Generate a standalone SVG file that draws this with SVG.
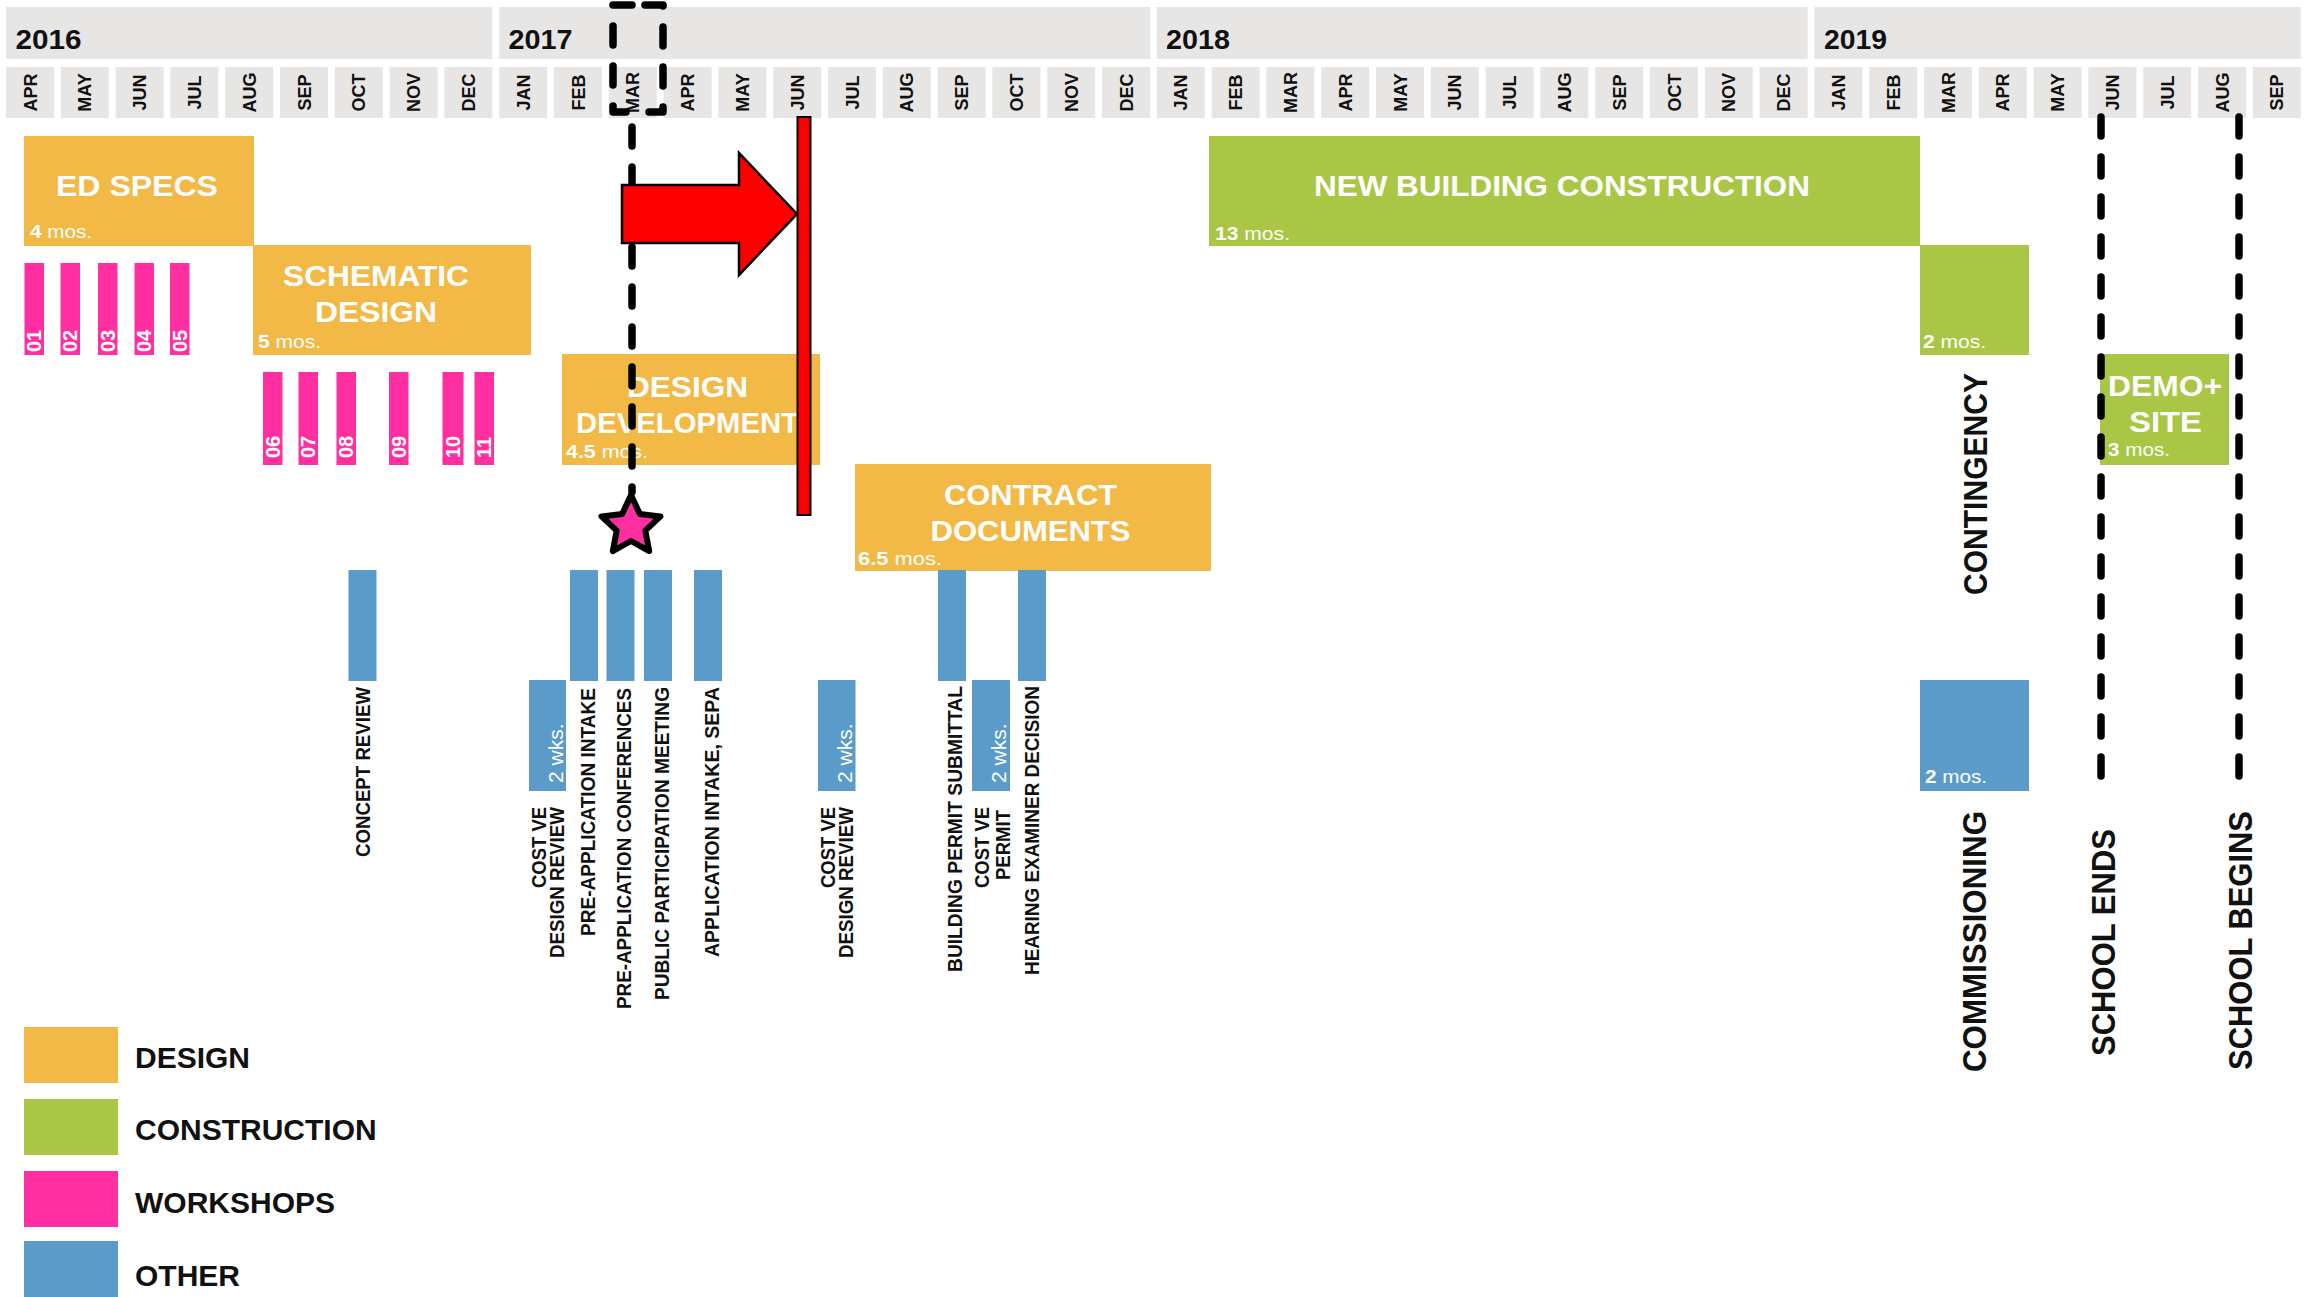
<svg xmlns="http://www.w3.org/2000/svg" width="2316" height="1297" viewBox="0 0 2316 1297">
<style>
.hdr{fill:#e7e6e4}
.yr{font-family:"Liberation Sans",Arial,sans-serif;font-weight:bold;font-size:28px;fill:#111}
.mo{font-family:"Liberation Sans",Arial,sans-serif;font-weight:bold;font-size:18px;fill:#111;text-anchor:middle}
.des{fill:#f2b946}
.con{fill:#a9c745}
.ws{fill:#ff2fa2}
.oth{fill:#5b9bc9}
.ttl{font-family:"Liberation Sans",Arial,sans-serif;font-weight:bold;font-size:29px;fill:#fff}
.mos{font-family:"Liberation Sans",Arial,sans-serif;font-size:18px;fill:#fff}
.mos tspan.n{font-weight:bold}
.wsl{font-family:"Liberation Sans",Arial,sans-serif;font-weight:bold;font-size:20px;fill:#fff}
.wks{font-family:"Liberation Sans",Arial,sans-serif;font-size:21px;fill:#fff}
.lbl{font-family:"Liberation Sans",Arial,sans-serif;font-weight:bold;font-size:21px;fill:#111}
.big{font-family:"Liberation Sans",Arial,sans-serif;font-weight:bold;font-size:34px;fill:#111}
.leg{font-family:"Liberation Sans",Arial,sans-serif;font-weight:bold;font-size:30px;fill:#111}
.dash{fill:none;stroke:#000;stroke-width:7.5;stroke-dasharray:19 21;stroke-linecap:round;stroke-linejoin:round}
</style>
<rect width="2316" height="1297" fill="#fff"/>
<g id="header">
<rect class="hdr" x="6" y="7" width="486.4" height="52"/>
<rect class="hdr" x="499.2" y="7" width="650.8" height="52"/>
<rect class="hdr" x="1156.8" y="7" width="650.8" height="52"/>
<rect class="hdr" x="1814.4" y="7" width="486.4" height="52"/>
<text class="yr" x="15.5" y="49" textLength="66" lengthAdjust="spacingAndGlyphs">2016</text>
<text class="yr" x="508.5" y="49" textLength="64" lengthAdjust="spacingAndGlyphs">2017</text>
<text class="yr" x="1166" y="49" textLength="64" lengthAdjust="spacingAndGlyphs">2018</text>
<text class="yr" x="1824" y="49" textLength="63" lengthAdjust="spacingAndGlyphs">2019</text>
<g id="months">
<rect class="hdr" x="6" y="67" width="48" height="51"/>
<rect class="hdr" x="60.8" y="67" width="48" height="51"/>
<rect class="hdr" x="115.6" y="67" width="48" height="51"/>
<rect class="hdr" x="170.4" y="67" width="48" height="51"/>
<rect class="hdr" x="225.2" y="67" width="48" height="51"/>
<rect class="hdr" x="280" y="67" width="48" height="51"/>
<rect class="hdr" x="334.8" y="67" width="48" height="51"/>
<rect class="hdr" x="389.6" y="67" width="48" height="51"/>
<rect class="hdr" x="444.4" y="67" width="48" height="51"/>
<rect class="hdr" x="499.2" y="67" width="48" height="51"/>
<rect class="hdr" x="554" y="67" width="48" height="51"/>
<rect class="hdr" x="608.8" y="67" width="48" height="51"/>
<rect class="hdr" x="663.6" y="67" width="48" height="51"/>
<rect class="hdr" x="718.4" y="67" width="48" height="51"/>
<rect class="hdr" x="773.2" y="67" width="48" height="51"/>
<rect class="hdr" x="828" y="67" width="48" height="51"/>
<rect class="hdr" x="882.8" y="67" width="48" height="51"/>
<rect class="hdr" x="937.6" y="67" width="48" height="51"/>
<rect class="hdr" x="992.4" y="67" width="48" height="51"/>
<rect class="hdr" x="1047.2" y="67" width="48" height="51"/>
<rect class="hdr" x="1102" y="67" width="48" height="51"/>
<rect class="hdr" x="1156.8" y="67" width="48" height="51"/>
<rect class="hdr" x="1211.6" y="67" width="48" height="51"/>
<rect class="hdr" x="1266.4" y="67" width="48" height="51"/>
<rect class="hdr" x="1321.2" y="67" width="48" height="51"/>
<rect class="hdr" x="1376" y="67" width="48" height="51"/>
<rect class="hdr" x="1430.8" y="67" width="48" height="51"/>
<rect class="hdr" x="1485.6" y="67" width="48" height="51"/>
<rect class="hdr" x="1540.4" y="67" width="48" height="51"/>
<rect class="hdr" x="1595.2" y="67" width="48" height="51"/>
<rect class="hdr" x="1650" y="67" width="48" height="51"/>
<rect class="hdr" x="1704.8" y="67" width="48" height="51"/>
<rect class="hdr" x="1759.6" y="67" width="48" height="51"/>
<rect class="hdr" x="1814.4" y="67" width="48" height="51"/>
<rect class="hdr" x="1869.2" y="67" width="48" height="51"/>
<rect class="hdr" x="1924" y="67" width="48" height="51"/>
<rect class="hdr" x="1978.8" y="67" width="48" height="51"/>
<rect class="hdr" x="2033.6" y="67" width="48" height="51"/>
<rect class="hdr" x="2088.4" y="67" width="48" height="51"/>
<rect class="hdr" x="2143.2" y="67" width="48" height="51"/>
<rect class="hdr" x="2198" y="67" width="48" height="51"/>
<rect class="hdr" x="2252.8" y="67" width="48" height="51"/>
<text class="mo" transform="translate(36.5,92.5) rotate(-90)">APR</text>
<text class="mo" transform="translate(91.3,92.5) rotate(-90)">MAY</text>
<text class="mo" transform="translate(146.1,92.5) rotate(-90)">JUN</text>
<text class="mo" transform="translate(200.9,92.5) rotate(-90)">JUL</text>
<text class="mo" transform="translate(255.7,92.5) rotate(-90)">AUG</text>
<text class="mo" transform="translate(310.5,92.5) rotate(-90)">SEP</text>
<text class="mo" transform="translate(365.3,92.5) rotate(-90)">OCT</text>
<text class="mo" transform="translate(420.1,92.5) rotate(-90)">NOV</text>
<text class="mo" transform="translate(474.9,92.5) rotate(-90)">DEC</text>
<text class="mo" transform="translate(529.7,92.5) rotate(-90)">JAN</text>
<text class="mo" transform="translate(584.5,92.5) rotate(-90)">FEB</text>
<text class="mo" transform="translate(639.3,92.5) rotate(-90)">MAR</text>
<text class="mo" transform="translate(694.1,92.5) rotate(-90)">APR</text>
<text class="mo" transform="translate(748.9,92.5) rotate(-90)">MAY</text>
<text class="mo" transform="translate(803.7,92.5) rotate(-90)">JUN</text>
<text class="mo" transform="translate(858.5,92.5) rotate(-90)">JUL</text>
<text class="mo" transform="translate(913.3,92.5) rotate(-90)">AUG</text>
<text class="mo" transform="translate(968.1,92.5) rotate(-90)">SEP</text>
<text class="mo" transform="translate(1022.9,92.5) rotate(-90)">OCT</text>
<text class="mo" transform="translate(1077.7,92.5) rotate(-90)">NOV</text>
<text class="mo" transform="translate(1132.5,92.5) rotate(-90)">DEC</text>
<text class="mo" transform="translate(1187.3,92.5) rotate(-90)">JAN</text>
<text class="mo" transform="translate(1242.1,92.5) rotate(-90)">FEB</text>
<text class="mo" transform="translate(1296.9,92.5) rotate(-90)">MAR</text>
<text class="mo" transform="translate(1351.7,92.5) rotate(-90)">APR</text>
<text class="mo" transform="translate(1406.5,92.5) rotate(-90)">MAY</text>
<text class="mo" transform="translate(1461.3,92.5) rotate(-90)">JUN</text>
<text class="mo" transform="translate(1516.1,92.5) rotate(-90)">JUL</text>
<text class="mo" transform="translate(1570.9,92.5) rotate(-90)">AUG</text>
<text class="mo" transform="translate(1625.7,92.5) rotate(-90)">SEP</text>
<text class="mo" transform="translate(1680.5,92.5) rotate(-90)">OCT</text>
<text class="mo" transform="translate(1735.3,92.5) rotate(-90)">NOV</text>
<text class="mo" transform="translate(1790.1,92.5) rotate(-90)">DEC</text>
<text class="mo" transform="translate(1844.9,92.5) rotate(-90)">JAN</text>
<text class="mo" transform="translate(1899.7,92.5) rotate(-90)">FEB</text>
<text class="mo" transform="translate(1954.5,92.5) rotate(-90)">MAR</text>
<text class="mo" transform="translate(2009.3,92.5) rotate(-90)">APR</text>
<text class="mo" transform="translate(2064.1,92.5) rotate(-90)">MAY</text>
<text class="mo" transform="translate(2118.9,92.5) rotate(-90)">JUN</text>
<text class="mo" transform="translate(2173.7,92.5) rotate(-90)">JUL</text>
<text class="mo" transform="translate(2228.5,92.5) rotate(-90)">AUG</text>
<text class="mo" transform="translate(2283.3,92.5) rotate(-90)">SEP</text>
</g>
</g>

<g id="ed-specs">
<rect class="des" x="24" y="136" width="230" height="110"/>
<text class="ttl" x="56" y="196" textLength="162" lengthAdjust="spacingAndGlyphs">ED SPECS</text>
<text class="mos" x="30" y="238" textLength="62" lengthAdjust="spacingAndGlyphs"><tspan class="n">4</tspan> mos.</text>
</g>
<g id="schematic-design">
<rect class="des" x="253" y="245" width="278" height="110"/>
<text class="ttl" x="283" y="286" textLength="186" lengthAdjust="spacingAndGlyphs">SCHEMATIC</text>
<text class="ttl" x="315" y="322" textLength="122" lengthAdjust="spacingAndGlyphs">DESIGN</text>
<text class="mos" x="258" y="348" textLength="63" lengthAdjust="spacingAndGlyphs"><tspan class="n">5</tspan> mos.</text>
</g>
<g id="design-development">
<rect class="des" x="562" y="354" width="258" height="111"/>
<text class="ttl" x="627" y="397" textLength="121" lengthAdjust="spacingAndGlyphs">DESIGN</text>
<text class="ttl" x="576" y="433" textLength="223" lengthAdjust="spacingAndGlyphs">DEVELOPMENT</text>
<text class="mos" x="566" y="458" textLength="82" lengthAdjust="spacingAndGlyphs"><tspan class="n">4.5</tspan> mos.</text>
</g>
<g id="contract-documents">
<rect class="des" x="855" y="464" width="356" height="107"/>
<text class="ttl" x="944" y="505" textLength="173" lengthAdjust="spacingAndGlyphs">CONTRACT</text>
<text class="ttl" x="930.5" y="541" textLength="200" lengthAdjust="spacingAndGlyphs">DOCUMENTS</text>
<text class="mos" x="858" y="565" textLength="84" lengthAdjust="spacingAndGlyphs"><tspan class="n">6.5</tspan> mos.</text>
</g>
<g id="new-building-construction">
<rect class="con" x="1209" y="136" width="711" height="110"/>
<text class="ttl" x="1314" y="196" textLength="496" lengthAdjust="spacingAndGlyphs">NEW BUILDING CONSTRUCTION</text>
<text class="mos" x="1215" y="240" textLength="75" lengthAdjust="spacingAndGlyphs"><tspan class="n">13</tspan> mos.</text>
</g>
<g id="contingency">
<rect class="con" x="1920" y="245" width="109" height="110"/>
<text class="mos" x="1923" y="348" textLength="63" lengthAdjust="spacingAndGlyphs"><tspan class="n">2</tspan> mos.</text>
<text class="big" transform="translate(1987,595) rotate(-90)" textLength="222" lengthAdjust="spacingAndGlyphs">CONTINGENCY</text>
</g>
<g id="demo-site">
<rect class="con" x="2100" y="354" width="129" height="111"/>
<text class="ttl" x="2108" y="396" textLength="114" lengthAdjust="spacingAndGlyphs">DEMO+</text>
<text class="ttl" x="2129" y="432" textLength="73" lengthAdjust="spacingAndGlyphs">SITE</text>
<text class="mos" x="2108" y="456" textLength="62" lengthAdjust="spacingAndGlyphs"><tspan class="n">3</tspan> mos.</text>
</g>
<g id="commissioning">
<rect class="oth" x="1920" y="680" width="109" height="111"/>
<text class="mos" x="1925" y="783" textLength="62" lengthAdjust="spacingAndGlyphs"><tspan class="n">2</tspan> mos.</text>
<text class="big" transform="translate(1986,1072) rotate(-90)" textLength="261" lengthAdjust="spacingAndGlyphs">COMMISSIONING</text>
</g>

<g id="workshops">
<rect class="ws" x="24.5" y="263" width="19.5" height="92"/>
<rect class="ws" x="60.5" y="263" width="19.5" height="92"/>
<rect class="ws" x="98" y="263" width="19.5" height="92"/>
<rect class="ws" x="134.5" y="263" width="19.5" height="92"/>
<rect class="ws" x="170" y="263" width="19.5" height="92"/>
<rect class="ws" x="263" y="372" width="19.5" height="93"/>
<rect class="ws" x="298.5" y="372" width="19.5" height="93"/>
<rect class="ws" x="336.5" y="372" width="19.5" height="93"/>
<rect class="ws" x="389" y="372" width="19.5" height="93"/>
<rect class="ws" x="442.5" y="372" width="21" height="93"/>
<rect class="ws" x="474.5" y="372" width="19.5" height="93"/>
<text class="wsl" transform="translate(41,352) rotate(-90)">01</text>
<text class="wsl" transform="translate(77,352) rotate(-90)">02</text>
<text class="wsl" transform="translate(115,352) rotate(-90)">03</text>
<text class="wsl" transform="translate(151,352) rotate(-90)">04</text>
<text class="wsl" transform="translate(187,352) rotate(-90)">05</text>
<text class="wsl" transform="translate(280,458) rotate(-90)">06</text>
<text class="wsl" transform="translate(315,458) rotate(-90)">07</text>
<text class="wsl" transform="translate(353,458) rotate(-90)">08</text>
<text class="wsl" transform="translate(406,458) rotate(-90)">09</text>
<text class="wsl" transform="translate(460,458) rotate(-90)">10</text>
<text class="wsl" transform="translate(491,458) rotate(-90)">11</text>
</g>

<g id="other-items">
<g id="concept-review">
<rect class="oth" x="348.5" y="570" width="28" height="111"/>
<text class="lbl" transform="translate(370,857) rotate(-90)" textLength="170" lengthAdjust="spacingAndGlyphs">CONCEPT REVIEW</text>
</g>
<g id="cost-ve-1">
<rect class="oth" x="529" y="680" width="37" height="111"/>
<text class="wks" transform="translate(563,783) rotate(-90)">2 wks.</text>
<text class="lbl" transform="translate(545.5,888) rotate(-90)" textLength="81" lengthAdjust="spacingAndGlyphs">COST VE</text>
<text class="lbl" transform="translate(563.5,958) rotate(-90)" textLength="151" lengthAdjust="spacingAndGlyphs">DESIGN REVIEW</text>
</g>
<g id="pre-app-intake">
<rect class="oth" x="570" y="570" width="28" height="111"/>
<text class="lbl" transform="translate(595,936) rotate(-90)" textLength="248" lengthAdjust="spacingAndGlyphs">PRE-APPLICATION INTAKE</text>
</g>
<g id="pre-app-conferences">
<rect class="oth" x="606.5" y="570" width="28" height="111"/>
<text class="lbl" transform="translate(630.5,1009) rotate(-90)" textLength="321" lengthAdjust="spacingAndGlyphs">PRE-APPLICATION CONFERENCES</text>
</g>
<g id="public-participation">
<rect class="oth" x="644" y="570" width="28" height="111"/>
<text class="lbl" transform="translate(668.5,1000) rotate(-90)" textLength="313" lengthAdjust="spacingAndGlyphs">PUBLIC PARTICIPATION MEETING</text>
</g>
<g id="application-intake">
<rect class="oth" x="694" y="570" width="28" height="111"/>
<text class="lbl" transform="translate(718.5,957) rotate(-90)" textLength="270" lengthAdjust="spacingAndGlyphs">APPLICATION INTAKE, SEPA</text>
</g>
<g id="cost-ve-2">
<rect class="oth" x="818" y="680" width="37.5" height="111"/>
<text class="wks" transform="translate(852,783) rotate(-90)">2 wks.</text>
<text class="lbl" transform="translate(834.5,888) rotate(-90)" textLength="81" lengthAdjust="spacingAndGlyphs">COST VE</text>
<text class="lbl" transform="translate(853,958) rotate(-90)" textLength="151" lengthAdjust="spacingAndGlyphs">DESIGN REVIEW</text>
</g>
<g id="building-permit">
<rect class="oth" x="938" y="570" width="28" height="111"/>
<text class="lbl" transform="translate(961.5,972) rotate(-90)" textLength="286" lengthAdjust="spacingAndGlyphs">BUILDING PERMIT SUBMITTAL</text>
</g>
<g id="cost-ve-permit">
<rect class="oth" x="972" y="680" width="38" height="111"/>
<text class="wks" transform="translate(1006,783) rotate(-90)">2 wks.</text>
<text class="lbl" transform="translate(989,888) rotate(-90)" textLength="81" lengthAdjust="spacingAndGlyphs">COST VE</text>
<text class="lbl" transform="translate(1010,880) rotate(-90)" textLength="70" lengthAdjust="spacingAndGlyphs">PERMIT</text>
</g>
<g id="hearing-examiner">
<rect class="oth" x="1018" y="570" width="28" height="111"/>
<text class="lbl" transform="translate(1039,975) rotate(-90)" textLength="289" lengthAdjust="spacingAndGlyphs">HEARING EXAMINER DECISION</text>
</g>
</g>

<g id="school-labels">
<text class="big" transform="translate(2115,1056) rotate(-90)" textLength="227" lengthAdjust="spacingAndGlyphs">SCHOOL ENDS</text>
<text class="big" transform="translate(2252,1070) rotate(-90)" textLength="259" lengthAdjust="spacingAndGlyphs">SCHOOL BEGINS</text>
</g>

<g id="connectors">
<path class="dash" d="M645 5 H663 V112 H645"/>
<path class="dash" d="M632 5 H613 V112 H632 V492"/>
<path class="dash" d="M2101 117 V790"/>
<path class="dash" d="M2239 117 V790"/>
<rect id="today-bar" x="797.5" y="117" width="13" height="398" fill="#ff0000" stroke="#000" stroke-width="2"/>
<polygon id="shift-arrow" points="622,185 739,185 739,153 797,214 739,275 739,243 622,243" fill="#ff0000" stroke="#000" stroke-width="2.5" stroke-linejoin="miter"/>
<polygon id="milestone-star" points="631,495 639.8,513.9 660.5,516.4 645.3,530.6 649.2,551.1 631,541 612.8,551.1 616.7,530.6 601.5,516.4 622.2,513.9" fill="#ff2fa2" stroke="#000" stroke-width="6" stroke-linejoin="round"/>
</g>

<g id="legend">
<rect class="des" x="24" y="1027" width="94" height="56"/>
<rect class="con" x="24" y="1099" width="94" height="56"/>
<rect class="ws" x="24" y="1171" width="94" height="56"/>
<rect class="oth" x="24" y="1241" width="94" height="56"/>
<text class="leg" x="135" y="1068">DESIGN</text>
<text class="leg" x="135" y="1140">CONSTRUCTION</text>
<text class="leg" x="135" y="1213">WORKSHOPS</text>
<text class="leg" x="135" y="1286">OTHER</text>
</g>
</svg>
